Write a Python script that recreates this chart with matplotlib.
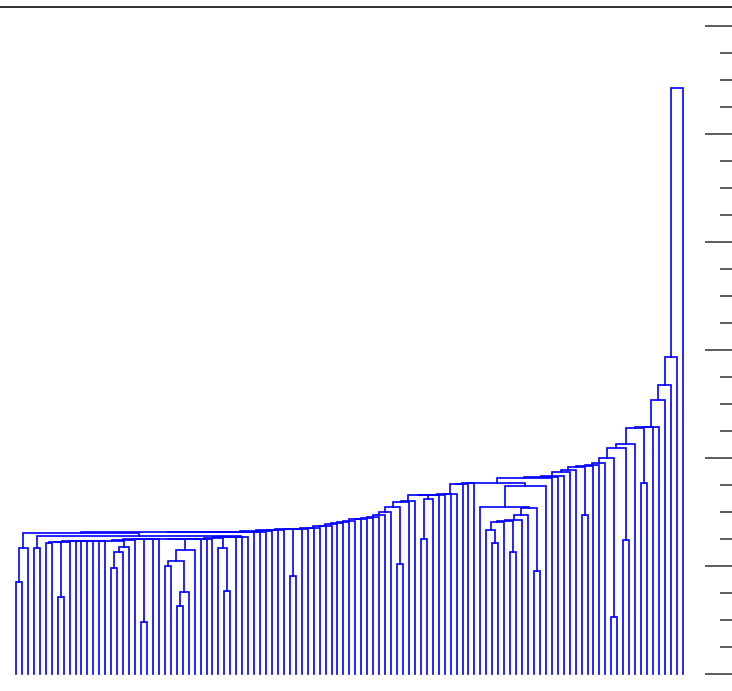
import matplotlib
matplotlib.use("Agg")
import matplotlib.pyplot as plt
from matplotlib.ticker import MultipleLocator

# Dendrogram of 113 observations. Each internal node is the contiguous
# block of leaves [lo, hi] that it joins, merged at distance h.
n_leaves = 113

node_lo = [0, 0, 3, 5, 7, 5, 5, 5, 5, 5,
           5, 5, 5, 16, 16, 16, 5, 5, 21, 5,
           5, 5, 25, 27, 27, 25, 25, 5, 5, 5,
           5, 35, 34, 5, 5, 5, 5, 3, 0, 0,
           0, 0, 0, 0, 0, 46, 0, 0, 0, 0,
           0, 0, 0, 0, 0, 0, 0, 0, 0, 0,
           0, 0, 0, 64, 0, 0, 0, 68, 68, 0,
           0, 0, 0, 0, 0, 0, 0, 80, 79, 79,
           83, 79, 79, 79, 87, 79, 78, 78, 0, 0,
           0, 0, 0, 0, 95, 0, 0, 0, 0, 100,
           0, 102, 0, 0, 105, 0, 0, 0, 0, 0,
           0, 0]
node_hi = [1, 2, 4, 6, 8, 8, 9, 10, 11, 12,
           13, 14, 15, 17, 18, 19, 19, 20, 22, 22,
           23, 24, 26, 28, 29, 29, 30, 30, 31, 32,
           33, 36, 36, 36, 37, 38, 39, 39, 39, 40,
           41, 42, 43, 44, 45, 47, 47, 48, 49, 50,
           51, 52, 53, 54, 55, 56, 57, 58, 59, 60,
           61, 62, 63, 65, 65, 66, 67, 69, 70, 70,
           71, 72, 73, 74, 75, 76, 77, 81, 81, 82,
           84, 84, 85, 86, 88, 88, 88, 89, 89, 90,
           91, 92, 93, 94, 96, 96, 97, 98, 99, 101,
           101, 103, 103, 104, 106, 106, 107, 108, 109, 110,
           111, 112]
node_h = [0.855, 1.164, 1.169, 1.210, 0.716, 1.225, 1.226, 1.227, 1.228, 1.229,
          1.230, 1.231, 1.232, 0.984, 1.132, 1.179, 1.236, 1.241, 0.484, 1.247,
          1.248, 1.249, 1.000, 0.630, 0.762, 1.046, 1.148, 1.250, 1.251, 1.252,
          1.253, 0.771, 1.164, 1.255, 1.264, 1.269, 1.273, 1.278, 1.303, 1.312,
          1.317, 1.319, 1.324, 1.329, 1.333, 0.910, 1.340, 1.343, 1.347, 1.355,
          1.356, 1.370, 1.375, 1.389, 1.394, 1.405, 1.417, 1.431, 1.435, 1.442,
          1.456, 1.472, 1.503, 1.019, 1.549, 1.590, 1.605, 1.250, 1.620, 1.653,
          1.657, 1.662, 1.665, 1.667, 1.759, 1.761, 1.764, 1.210, 1.333, 1.407,
          1.132, 1.421, 1.426, 1.472, 0.956, 1.534, 1.549, 1.744, 1.773, 1.812,
          1.827, 1.833, 1.873, 1.889, 1.472, 1.914, 1.926, 1.935, 1.951, 0.531,
          1.997, 1.241, 2.090, 2.127, 1.769, 2.281, 2.284, 2.287, 2.537, 2.676,
          2.938, 5.426]

LINE_COLOR = "#0000ff"


def build_links():
    """Leaf k sits at 5 + 10k; a node sits midway between its two children."""
    nodes = {(lo, hi): h for lo, hi, h in zip(node_lo, node_hi, node_h)}
    xpos = {(k, k): 5.0 + 10.0 * k for k in range(n_leaves)}
    ypos = {(k, k): 0.0 for k in range(n_leaves)}
    links = []
    for lo, hi in sorted(nodes, key=lambda r: r[1] - r[0]):
        split = lo
        for m in range(hi - 1, lo - 1, -1):
            if (lo, m) in nodes or m == lo:
                split = m
                break
        left, right = (lo, split), (split + 1, hi)
        h = nodes[(lo, hi)]
        xl, xr = xpos[left], xpos[right]
        links.append(([xl, xl, xr, xr], [ypos[left], h, h, ypos[right]]))
        xpos[(lo, hi)] = 0.5 * (xl + xr)
        ypos[(lo, hi)] = h
    return links


W, H, DPI = 732, 691, 100
fig = plt.figure(figsize=(W / DPI, H / DPI), dpi=DPI)
fig.patch.set_facecolor("white")

# pixel geometry of the plotting area
top_px, base_px = 7, 674          # top frame line, zero distance
unit_px = 108.0                   # pixels per distance unit
leaf0_px, leafN_px = 16.0, 682.8  # first and last leaf

ax = fig.add_axes([0.0, 0.0, 1.0, (H - top_px) / H])
for xs, ys in build_links():
    ax.plot(xs, ys, color=LINE_COLOR, lw=1.2, solid_joinstyle="miter")

scale = (leafN_px - leaf0_px) / (10.0 * (n_leaves - 1))
ax.set_xlim(5 - leaf0_px / scale, 5 + (W - leaf0_px) / scale)
ax.set_ylim(-(H - base_px) / unit_px, (base_px - top_px) / unit_px)

ax.yaxis.set_major_locator(MultipleLocator(1.0))
ax.yaxis.set_minor_locator(MultipleLocator(0.25))
ax.yaxis.tick_right()
ax.tick_params(axis="y", which="major", direction="in", length=19.4,
               width=1.1, color="#303030", labelright=False, labelleft=False)
ax.tick_params(axis="y", which="minor", direction="in", length=8.6,
               width=1.1, color="#303030")
ax.set_xticks([])
for side in ("left", "right", "bottom"):
    ax.spines[side].set_visible(False)
ax.spines["top"].set_linewidth(1.3)
ax.spines["top"].set_color("#202020")

fig.savefig("out.png", dpi=DPI)
